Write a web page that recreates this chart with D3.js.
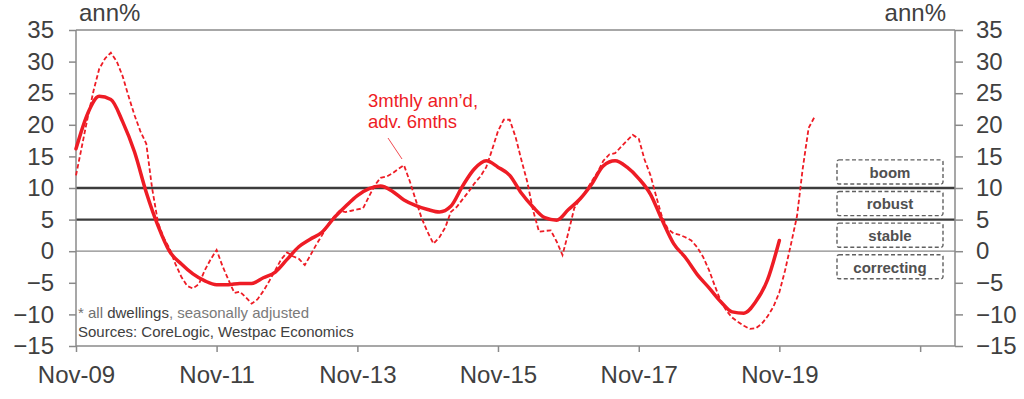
<!DOCTYPE html>
<html><head><meta charset="utf-8">
<script src="https://cdn.jsdelivr.net/npm/d3@7"></script>
<style>
html,body{margin:0;padding:0;background:#fff;}
svg{display:block;font-family:"Liberation Sans",Arial,sans-serif;}
</style></head>
<body><svg id="c" width="1024" height="399"></svg>
<script>
// ---- data ----
const solidStart = "2009-11-01";   // annual growth (solid), values every 2 months
const solidStepMonths = 2;
const solidValues = [16.2,21.8,24.5,24.0,20.5,15.7,9.3,4.0,0.0,-2.0,-3.6,-4.7,-5.3,-5.3,-5.1,-5.1,-4.2,-3.3,-1.3,0.7,1.9,3.0,5.2,7.1,8.8,9.9,10.3,9.5,8.1,7.2,6.6,6.2,7.1,10.3,13.0,14.3,13.3,12.0,9.2,7.0,5.3,4.9,6.6,8.3,10.6,13.5,14.3,13.3,11.5,9.0,5.0,1.2,-1.0,-3.7,-5.8,-8.0,-9.6,-9.8,-8.0,-4.5,1.7];
const dashStart = "2009-11-01";    // 3mthly ann'd, adv. 6mths (dashed), monthly
const dashValues = [12.0,16.5,21.2,25.5,28.8,30.5,31.4,30.0,27.7,24.5,21.5,19.0,17.0,10.0,4.5,2.0,0.5,-2.0,-4.0,-5.5,-5.9,-5.2,-3.0,-1.3,0.2,-2.3,-4.5,-6.6,-6.4,-7.3,-8.3,-7.6,-6.3,-4.7,-3.0,-1.3,-0.2,-0.8,-1.2,-2.2,-0.7,1.0,2.5,4.2,5.4,6.4,6.2,6.4,6.6,6.8,8.7,10.5,11.6,11.8,12.3,13.0,13.6,11.0,8.0,5.2,3.0,1.2,2.2,3.8,6.2,7.0,8.2,9.4,10.7,11.8,13.3,16.0,19.0,20.8,20.8,18.0,14.5,11.0,6.5,3.1,3.2,3.3,1.5,-0.6,3.0,6.8,8.3,9.6,11.0,12.5,14.3,15.3,15.5,16.5,17.5,18.4,17.8,14.5,12.0,8.5,5.5,3.5,2.8,2.6,2.2,1.7,0.6,-0.9,-3.0,-5.5,-7.9,-9.5,-10.5,-11.2,-11.8,-12.3,-12.2,-11.5,-10.3,-8.8,-6.5,-3.0,1.2,5.6,13.0,19.5,21.2];
const xTickDates = ["2009-11-01","2011-11-01","2013-11-01","2015-11-01","2017-11-01","2019-11-01","2021-11-01"];
const xTickLabels = ["Nov-09","Nov-11","Nov-13","Nov-15","Nov-17","Nov-19",""];
const yTicks = [-15,-10,-5,0,5,10,15,20,25,30,35];
const bandNames = ["boom","robust","stable","correcting"];
const bandTops = [15,10,5,0];
const thresholds = [10,5];

// ---- layout ----
const L = 76, R = 955, T = 30, B = 346;
const red = "#ee1c25", txt = "#404040", axisC = "#8a8a8a";
const svg = d3.select("#c");
const x = d3.scaleUtc().domain([new Date("2009-11-01"), new Date("2022-05-01")]).range([L, R]);
const y = d3.scaleLinear().domain([-15, 35]).range([B, T]);

const solid = solidValues.map((v,i)=>({d:d3.utcMonth.offset(new Date(solidStart), i*solidStepMonths), v}));
const dash = dashValues.map((v,i)=>({d:d3.utcMonth.offset(new Date(dashStart), i), v}));

// top border
svg.append("line").attr("x1",L).attr("x2",R).attr("y1",T).attr("y2",T).attr("stroke",axisC).attr("stroke-width",1.5);

// zero line
svg.append("line").attr("x1",L).attr("x2",R).attr("y1",y(0)).attr("y2",y(0)).attr("stroke","#8a8a8a").attr("stroke-width",1.3);
// thresholds
svg.selectAll("line.th").data(thresholds).join("line").attr("class","th")
  .attr("x1",L).attr("x2",R).attr("y1",d=>y(d)).attr("y2",d=>y(d))
  .attr("stroke","#3c3c3c").attr("stroke-width",2.3);

// axes
const yl = svg.append("g").attr("transform",`translate(${L},0)`)
  .call(d3.axisLeft(y).tickValues(yTicks).tickSize(7).tickPadding(15).tickFormat(d3.format("d")));
const yr = svg.append("g").attr("transform",`translate(${R},0)`)
  .call(d3.axisRight(y).tickValues(yTicks).tickSize(8).tickPadding(13).tickFormat(d3.format("d")));
const xa = svg.append("g").attr("transform",`translate(0,${B})`)
  .call(d3.axisBottom(x).tickValues(xTickDates.map(s=>new Date(s))).tickSize(6).tickPadding(14)
    .tickFormat((d,i)=>xTickLabels[i]));
[yl,yr,xa].forEach(g=>{
  g.select(".domain").attr("stroke",axisC).attr("stroke-width",1.5);
  g.selectAll(".tick line").attr("stroke",axisC).attr("stroke-width",1.5);
  g.selectAll(".tick text").attr("fill",txt).attr("font-size",24)
    .attr("font-family","Liberation Sans, Arial, sans-serif");
});
yl.select(".domain").attr("d",`M0,${T}V${B}`);
yr.select(".domain").attr("d",`M0,${T}V${B}`);
xa.select(".domain").attr("d",`M${L},0H${R}`);

// unit labels
svg.append("text").attr("x",79).attr("y",21).attr("font-size",24).attr("fill",txt).text("ann%");
svg.append("text").attr("x",946).attr("y",21).attr("text-anchor","end").attr("font-size",24).attr("fill",txt).text("ann%");

// band boxes
const bx = 837, bw = 106;
const bands = svg.selectAll("g.band").data(bandNames).join("g").attr("class","band");
bands.append("rect").attr("x",bx).attr("width",bw)
  .attr("y",(d,i)=>y(bandTops[i])+3.5).attr("height",(d,i)=>y(bandTops[i]-5)-y(bandTops[i])-7.5)
  .attr("fill","#fff").attr("stroke","#606060").attr("stroke-width",1.4).attr("stroke-dasharray","4,2.5").attr("rx",2);
bands.append("text").attr("x",bx+bw/2).attr("text-anchor","middle")
  .attr("y",(d,i)=>(y(bandTops[i])+y(bandTops[i]-5))/2+5.5)
  .attr("font-size",15).attr("font-weight","bold").attr("fill","#505050").text(d=>d);

// lines
svg.append("path").datum(dash).attr("fill","none").attr("stroke",red).attr("stroke-width",1.8)
  .attr("stroke-dasharray","4.5,2.5")
  .attr("d",d3.line().x(d=>x(d.d)).y(d=>y(d.v)));
svg.append("path").datum(solid).attr("fill","none").attr("stroke",red).attr("stroke-width",3.5)
  .attr("stroke-linejoin","round").attr("stroke-linecap","round")
  .attr("d",d3.line().curve(d3.curveMonotoneX).x(d=>x(d.d)).y(d=>y(d.v)));

// annotation
svg.append("text").attr("x",368).attr("y",107).attr("font-size",18.5).attr("fill",red).text("3mthly ann\u2019d,");
svg.append("text").attr("x",368).attr("y",128).attr("font-size",18.5).attr("fill",red).text("adv. 6mths");
svg.append("line").attr("x1",388).attr("y1",138).attr("x2",402).attr("y2",159).attr("stroke",red).attr("stroke-width",0.8);

// footnotes
const f1 = svg.append("text").attr("x",78).attr("y",318).attr("font-size",15);
f1.append("tspan").attr("fill","#707070").text("* all ");
f1.append("tspan").attr("fill","#404040").text("dwellings");
f1.append("tspan").attr("fill","#7a7a7a").text(", seasonally adjusted");
svg.append("text").attr("x",78).attr("y",337).attr("font-size",15).attr("fill","#404040").text("Sources: CoreLogic, Westpac Economics");
</script></body></html>
